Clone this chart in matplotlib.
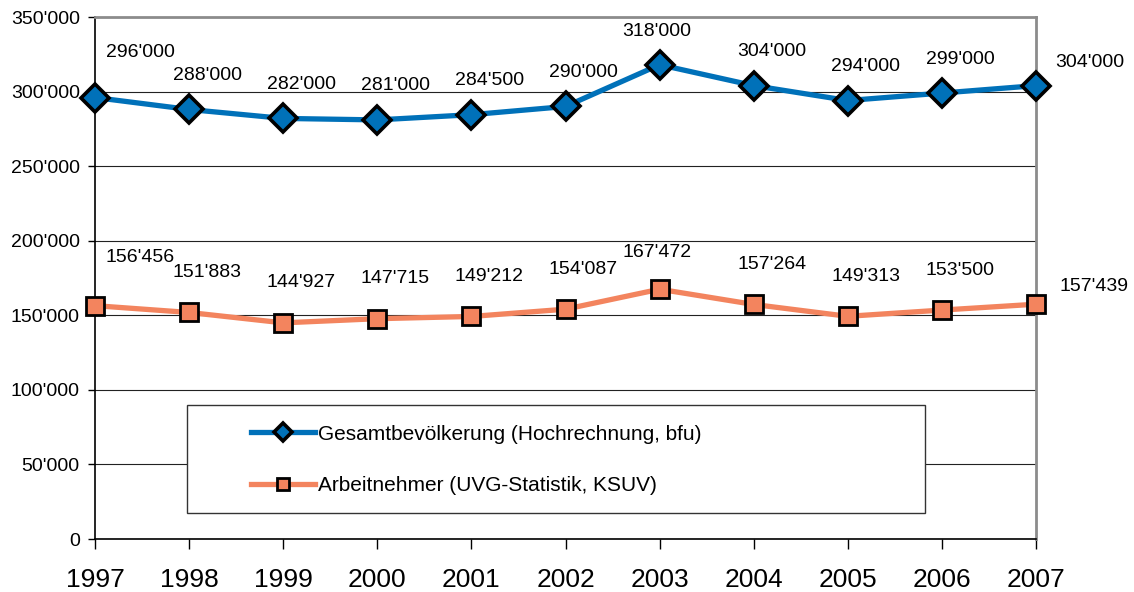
import matplotlib
matplotlib.use('Agg')
import matplotlib.pyplot as plt
from matplotlib.ticker import FuncFormatter
from matplotlib.patches import Rectangle
from matplotlib.lines import Line2D

plt.rcParams['font.family'] = ['Liberation Sans', 'DejaVu Sans']

years = [1997, 1998, 1999, 2000, 2001, 2002, 2003, 2004, 2005, 2006, 2007]
gesamt = [296000, 288000, 282000, 281000, 284500, 290000, 318000, 304000, 294000, 299000, 304000]
arbeitnehmer = [156456, 151883, 144927, 147715, 149212, 154087, 167472, 157264, 149313, 153500, 157439]
label_gesamt = 'Gesamtbevölkerung (Hochrechnung, bfu)'
label_arbeit = 'Arbeitnehmer (UVG-Statistik, KSUV)'

blue = '#0071b9'
orange = '#f3845e'

def fmt(v, pos=None):
    v = int(round(v))
    if v == 0:
        return '0'
    return '{:,}'.format(v).replace(',', "'")

fig = plt.figure(figsize=(11.34, 5.92), dpi=100)
ax = fig.add_axes([95/1134, 1-539/592, 941/1134, 522/592])

ax.plot(years, gesamt, color=blue, lw=3.8, marker='D', ms=14, mfc=blue,
        mec='black', mew=2.6, zorder=5, clip_on=False)
ax.plot(years, arbeitnehmer, color=orange, lw=3.8, marker='s', ms=13, mfc=orange,
        mec='black', mew=2.0, zorder=5, clip_on=False)

# data labels (offsets in pixels, Excel-ish placement)
for i, (x, y) in enumerate(zip(years, gesamt)):
    dx, dy = 18, 34
    if i == 0:
        dx, dy = 45, 45
    elif i == len(years) - 1:
        dx, dy = 54, 23
    elif years[i] == 2003:
        dx, dy = -3, 33
    ax.annotate(fmt(y), (x, y), xytext=(dx, dy), textcoords='offset pixels',
                ha='center', va='center', fontsize=14, zorder=6)
for i, (x, y) in enumerate(zip(years, arbeitnehmer)):
    dx, dy = 18, 40
    if i == 0:
        dx, dy = 45, 48
    elif i == len(years) - 1:
        dx, dy = 58, 18
    elif years[i] == 2003:
        dx, dy = -3, 37
    ax.annotate(fmt(y), (x, y), xytext=(dx, dy), textcoords='offset pixels',
                ha='center', va='center', fontsize=14, zorder=6)

ax.set_xlim(1997, 2007)
ax.set_ylim(0, 350000)
ax.set_xticks(years)
ax.set_yticks(range(0, 350001, 50000))
ax.yaxis.set_major_formatter(FuncFormatter(fmt))
ax.tick_params(axis='y', labelsize=14, direction='out', length=5, width=1, pad=6)
ax.tick_params(axis='x', labelsize=19, direction='out', length=7, width=1, pad=14)
ax.grid(axis='y', color='#222222', lw=0.8)
ax.set_axisbelow(True)
for s in ['top', 'right']:
    ax.spines[s].set_color('#8c8c8c')
    ax.spines[s].set_linewidth(2)
for s in ['left', 'bottom']:
    ax.spines[s].set_color('black')
    ax.spines[s].set_linewidth(1.2)

# legend box
box = Rectangle((187/1134, 1-513/592), (925-187)/1134, 108/592,
                transform=fig.transFigure, facecolor='white', edgecolor='#333333',
                lw=1, zorder=10)
fig.patches.append(box)

handles = [
    Line2D([], [], color=blue, lw=3.8, marker='D', ms=9, mfc=blue, mec='black', mew=2.6),
    Line2D([], [], color=orange, lw=3.8, marker='s', ms=9, mfc=orange, mec='black', mew=2.0),
]
leg = fig.legend(handles, [label_gesamt, label_arbeit], loc='upper left',
                 bbox_to_anchor=(232/1134, 1-406/592), frameon=False,
                 prop={'size': 15},
                 handlelength=3.1, handletextpad=0.15, labelspacing=1.55)
leg.set_zorder(11)

fig.savefig('out.png', dpi=100)
